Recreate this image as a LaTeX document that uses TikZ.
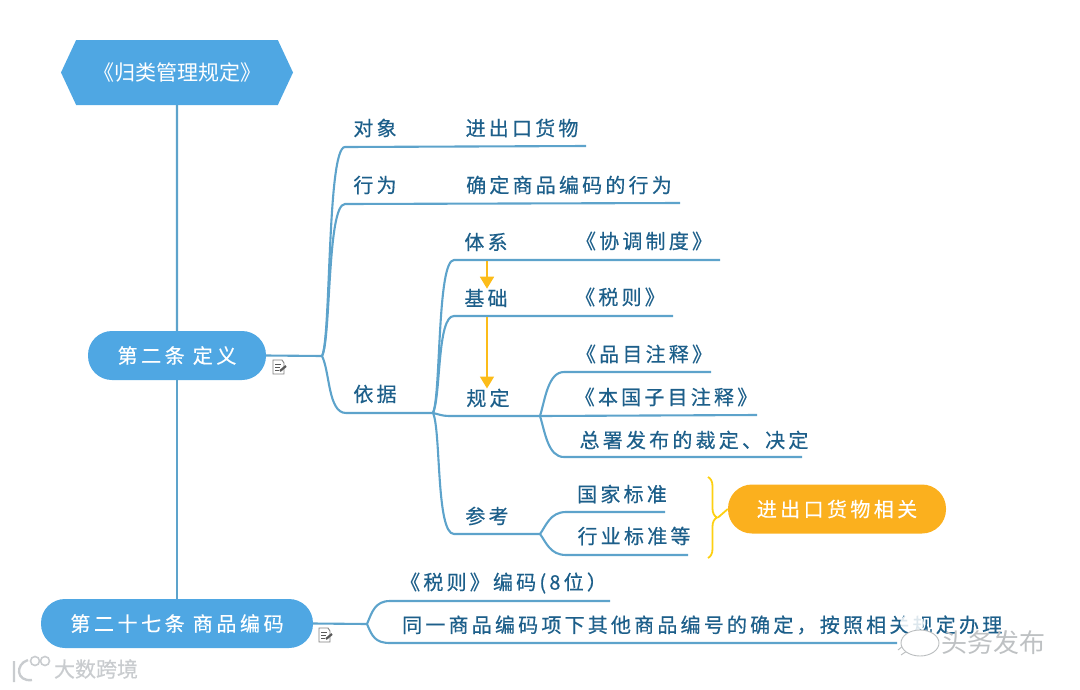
\documentclass[tikz,border=0pt]{standalone}
\usepackage{fontspec}
\usepackage{xcolor}
\setmainfont{Noto Sans CJK SC}
\usetikzlibrary{arrows.meta,positioning,shapes.symbols,decorations.pathreplacing}
\definecolor{skyfill}{HTML}{4FA7E3}
\definecolor{linkblue}{HTML}{5DA3CB}
\definecolor{inkblue}{HTML}{1D5F8A}
\definecolor{amberfill}{HTML}{FBB01E}
\definecolor{markgray}{HTML}{C9CCCF}
\begin{document}
\begin{tikzpicture}[x=1pt, y=-1pt,
    title/.style={signal, signal to=west and east, signal pointer angle=130, fill=skyfill, text=white, minimum width=232pt, minimum height=65pt, inner sep=0pt, font=\fontsize{21}{24}\selectfont},
    pill/.style={rectangle, rounded corners=24pt, fill=skyfill, minimum height=49pt, inner sep=0pt, text=white, font=\fontsize{20}{23}\selectfont\addfontfeature{LetterSpace=18,FakeBold=0.4}},
    amberpill/.style={pill, fill=amberfill, minimum width=218pt, font=\fontsize{20}{23}\selectfont\addfontfeature{LetterSpace=17,FakeBold=0.4}},
    leaf/.style={inner sep=0pt, text=inkblue, font=\fontsize{20}{24}\selectfont\addfontfeature{LetterSpace=16,FakeBold=0.5}},
    branch/.style={draw=linkblue, line width=2.1pt},
    trunk/.style={draw=linkblue, line width=2.2pt},
    flow/.style={-{Triangle[length=12pt,width=14pt]}, draw=amberfill!85!yellow, line width=1.8pt},
    clasp/.style={draw=amberfill!60!yellow, line width=1.8pt},
    stamp/.style={inner sep=0pt, text=markgray},
    noteicon/.pic={
        \draw[gray, fill=white, line width=0.9pt] (-6,-7) -- (3,-7) -- (5,-4) -- (5,7) -- (-6,7) -- cycle;
        \draw[gray!70!black, line width=1pt] (-4,-3) -- (2,-3) (-4,0) -- (1,0) (-4,3) -- (0,3);
        \draw[gray!70!black, line width=2.2pt] (1,4) -- (7,-1);
    }
]
\useasboundingbox (0,0) rectangle (1080,689);

% Main column
\node[title] (rule) at (177,72.5) {《归类管理规定》};
\node[pill, minimum width=178pt] (art2) at (177,355.5) {第二条 定义};
\node[pill, minimum width=272pt] (art27) at (177,623.5) {第二十七条 商品编码};
\draw[trunk] (rule) -- (art2);
\draw[trunk] (art2) -- (art27);

% Labels of article 2
\node[leaf] (obj) at (375,128) {对象};
\node[leaf] (objtxt) at (522,128) {进出口货物};
\node[leaf] (act) at (375,185) {行为};
\node[leaf] (acttxt) at (569,185) {确定商品编码的行为};
\node[leaf] (basis) at (375,394) {依据};
\node[leaf] (sys) at (486,242) {体系};
\node[leaf] (systxt) at (644,241) {《协调制度》};
\node[leaf] (base) at (486,298) {基础};
\node[leaf] (basetxt) at (620,297) {《税则》};
\node[leaf] (reg) at (488,398) {规定};
\node[leaf] (note1) at (644,354) {《品目注释》};
\node[leaf] (note2) at (666,397) {《本国子目注释》};
\node[leaf] (note3) at (694,440) {总署发布的裁定、决定};
\node[leaf] (ref) at (487,516) {参考};
\node[leaf] (std1) at (622,494) {国家标准};
\node[leaf] (std2) at (634,536) {行业标准等};
\node[amberpill] (goods) at (837,509) {进出口货物相关};

% Branch points
\coordinate (hub) at (322,356);
\coordinate (hubbasis) at (433,413);
\coordinate (hubreg) at (540,416);
\coordinate (hubref) at (540,534);
\coordinate (hub27) at (367,624);

% Connectors of article 2
\draw[branch] (art2.east) -- (hub);
\coordinate (objend) at (586,146);
\coordinate (actend) at (680,203);
\draw[branch] (hub) .. controls (331,340) and (327,147) .. (345,147) -- (objend);
\draw[branch] (hub) .. controls (331,340) and (327,204) .. (345,204) -- (actend);
\draw[branch] (hub) .. controls (330,372) and (328,413) .. (346,413) -- (hubbasis);
\coordinate (sysend) at (720,260);
\coordinate (baseend) at (673,316);
\coordinate (regstart) at (449,416);
\draw[branch] (hubbasis) .. controls (441,395) and (437,260) .. (454,260) -- (sysend);
\draw[branch] (hubbasis) .. controls (441,395) and (437,316) .. (454,316) -- (baseend);
\draw[branch] (hubbasis) .. controls (438,414) and (442,416) .. (regstart) -- (hubreg);
\draw[branch] (hubbasis) .. controls (441,430) and (436,534) .. (454,534) -- (hubref);
\coordinate (note1end) at (711,372);
\coordinate (note2end) at (757,415);
\coordinate (note3end) at (802,457);
\coordinate (std1end) at (665,512);
\coordinate (std2end) at (688,555);
\draw[branch] (hubreg) .. controls (545,400) and (548,372) .. (564,372) -- (note1end);
\draw[branch] (hubreg) -- (note2end);
\draw[branch] (hubreg) .. controls (545,432) and (548,457) .. (564,457) -- (note3end);
\draw[branch] (hubref) .. controls (546,526) and (550,512) .. (566,512) -- (std1end);
\draw[branch] (hubref) .. controls (546,542) and (550,555) .. (566,555) -- (std2end);

% Order of the sources
\coordinate (flowtop) at (487,261);
\coordinate (flowmid) at (487,317);
\draw[flow] (flowtop) -- (flowtop |- base.north);
\draw[flow] (flowmid) -- (flowmid |- reg.north);

% Brace to the note
\coordinate (bracetop) at (708,477);
\coordinate (bracebot) at (708,558);
\draw[clasp, decorate, decoration={brace, amplitude=9pt, aspect=0.5}] (bracetop) -- (bracebot);
\draw[clasp] (718,517.5) -- (goods.west);

% Article 27
\node[leaf, anchor=west] (code) at (400,583) {《税则》编码(8位）};
\node[leaf, anchor=west] (same) at (402,625) {同一商品编码项下其他商品编号的确定，按照相关规定办理};
\coordinate (codeend) at (610,601);
\coordinate (sameend) at (897,643);
\draw[branch] (art27.east) -- (hub27);
\draw[branch] (hub27) .. controls (372,612) and (375,601) .. (390,601) -- (codeend);
\draw[branch] (hub27) .. controls (372,636) and (375,643) .. (390,643) -- (sameend);

% Note marks
\pic at (279,367) {noteicon};
\pic at (325,635) {noteicon};

% Watermarks
\node[stamp, font=\fontsize{21}{24}\selectfont\addfontfeature{FakeBold=0.4}] (brandl) at (96,669) {大数跨境};
\draw[markgray, line width=2.4pt] (14,661) -- (14,682) (28,660) .. controls (15,664) and (16,682) .. (32,680);
\draw[markgray, line width=1.6pt] (35,661) circle (4.5) (45,661) circle (4.5);
\fill[white, opacity=0.85] (912,623) ellipse (12 and 9);
\draw[markgray!80!gray, fill=white, line width=0.9pt] (898,650) -- (904,645) (901,655) -- (907,651);
\draw[markgray!80!gray, fill=white, line width=0.9pt] (920,643) ellipse (19 and 13);
\node[stamp, font=\fontsize{26}{30}\selectfont, text=markgray!85!gray] (brandr) at (993,643) {头务发布};
\end{tikzpicture}
\end{document}
